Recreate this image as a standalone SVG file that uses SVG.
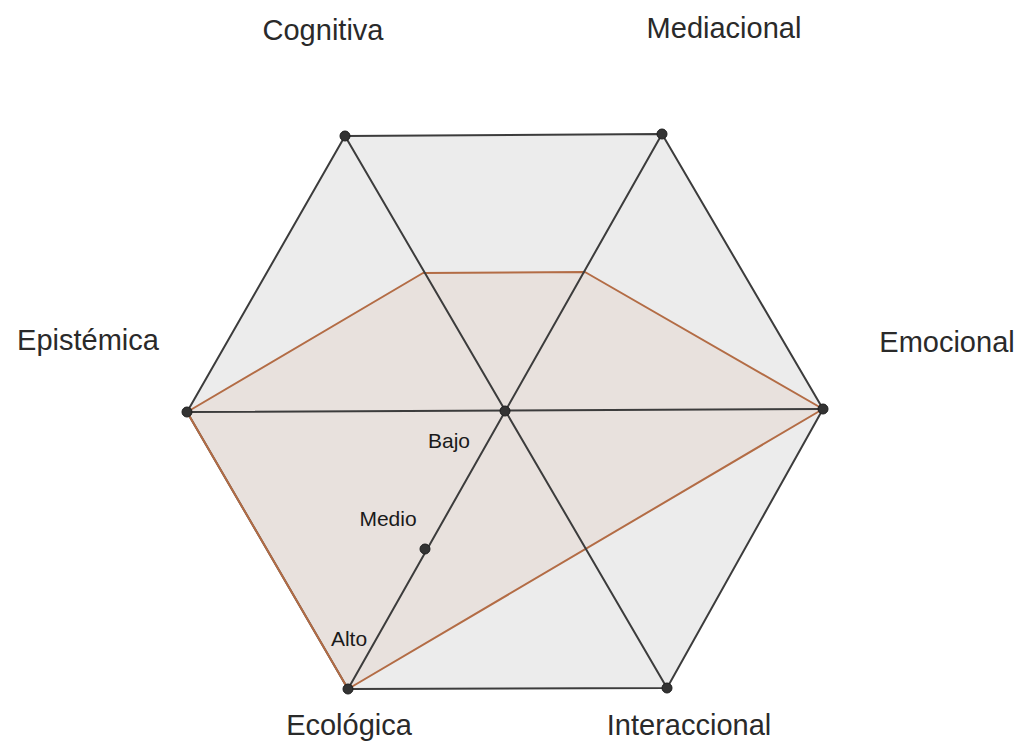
<svg xmlns="http://www.w3.org/2000/svg" width="1021" height="742" viewBox="0 0 1021 742">
<style>
.big{font-family:"Liberation Sans",Arial,sans-serif;font-size:29px;fill:#2a2a2a;text-anchor:middle}
.small{font-family:"Liberation Sans",Arial,sans-serif;font-size:21px;fill:#1a1a1a;text-anchor:middle}
.edge{stroke:#3c3c3c;stroke-width:2;fill:none;stroke-linecap:round}
.dot{fill:#333;stroke:#1e1e1e;stroke-width:1}
</style>
<rect width="1021" height="742" fill="#ffffff"/>
<g id="hexagon">
<polygon points="345,136 662,134 823,409 667,688 348,689 187,412" fill="#ececec" stroke="#3c3c3c" stroke-width="2" stroke-linejoin="round"/>
</g>
<g id="profile">
<polygon points="187,412 423,273 585,272 823,409 348,689" fill="#c87a50" fill-opacity="0.09" stroke="#b36c45" stroke-width="2" stroke-linejoin="round"/>
</g>
<g id="connectors">
<line class="edge" x1="345" y1="136" x2="667" y2="688"/>
<line class="edge" x1="662" y1="134" x2="348" y2="689"/>
<line class="edge" x1="187" y1="412" x2="823" y2="409"/>
</g>
<g id="points">
<circle class="dot" cx="345" cy="136" r="5"/>
<circle class="dot" cx="662" cy="134" r="5"/>
<circle class="dot" cx="823" cy="409" r="5"/>
<circle class="dot" cx="667" cy="688" r="5"/>
<circle class="dot" cx="348" cy="689" r="5"/>
<circle class="dot" cx="187" cy="412" r="5"/>
<circle class="dot" cx="505" cy="411" r="5"/>
<circle class="dot" cx="425" cy="549" r="5"/>
</g>
<g id="labels">
<text class="big" x="323" y="40">Cognitiva</text>
<text class="big" x="724" y="38">Mediacional</text>
<text class="big" x="88" y="350">Epistémica</text>
<text class="big" x="947" y="352">Emocional</text>
<text class="big" x="349" y="735">Ecológica</text>
<text class="big" x="689" y="735">Interaccional</text>
<text class="small" x="449" y="448">Bajo</text>
<text class="small" x="388" y="526">Medio</text>
<text class="small" x="349" y="646">Alto</text>
</g>
</svg>
